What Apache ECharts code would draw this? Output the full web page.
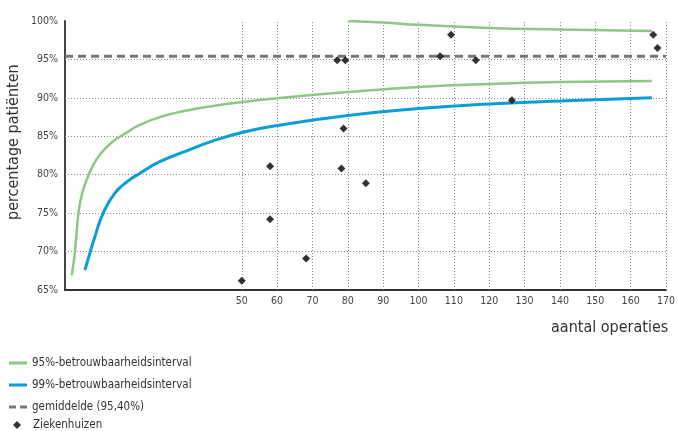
<!DOCTYPE html>
<html><head><meta charset="utf-8">
<script src="https://cdn.jsdelivr.net/npm/echarts@6/dist/echarts.min.js"></script>
<style>html,body{margin:0;padding:0;background:#fff}#c{width:678px;height:431px}</style>
</head><body><div id="c"></div>
<script>
// x tick labels (aantal operaties)
const xTickValues = [50, 60, 70, 80, 90, 100, 110, 120, 130, 140, 150, 160, 170];
const yTickValues = [65, 70, 75, 80, 85, 90, 95, 100];
const yGridValues = [70, 75, 80, 85, 90, 95];
// 95% betrouwbaarheidsinterval, bovengrens
const ci95Upper = [[80.2,100],[90,99.8],[100,99.5],[120,99.1],[140,98.9],[166,98.7]];
// 95% betrouwbaarheidsinterval, ondergrens
const ci95Lower = [[1.9,66.9],[2.8,69.9],[3.8,75.0],[4.7,77.3],[6.1,79.3],[7.5,80.8],[9.4,82.3],[13.2,84.2],[17.9,85.6],[20.3,86.3],[26.8,87.5],[34.4,88.35],[41.9,88.95],[50.9,89.5],[60,89.95],[80,90.75],[100,91.4],[120,91.8],[140,92.05],[166,92.2]];
// 99% betrouwbaarheidsinterval, ondergrens
const ci99Lower = [[5.65,67.6],[7.1,69.9],[8.5,72.0],[10.8,75.0],[14.1,77.6],[17.6,79.1],[21.2,80.2],[26.8,81.7],[34.4,83.1],[41.9,84.4],[50.9,85.6],[60,86.4],[80,87.7],[100,88.6],[120,89.2],[140,89.6],[166,90.0]];
// gemiddelde
const meanValue = 95.4;
const meanRange = [0, 170];
// ziekenhuizen: [aantal operaties, percentage]
const hospitals = [[50,66.2],[58,81.1],[58,74.2],[68.2,69.1],[77,94.9],[79.3,94.9],[78.8,86.0],[78.2,80.8],[85.1,78.9],[106.1,95.4],[109.2,98.2],[116.2,94.9],[126.4,89.7],[166.4,98.2],[167.6,96.5]];

const FONT = '"DejaVu Sans Condensed","Liberation Sans Narrow","DejaVu Sans",sans-serif';
const GREEN = '#8cc783', BLUE = '#0a9ed6', GREY = '#777777';
const chart = echarts.init(document.getElementById('c'));
const name95 = '95%-betrouwbaarheidsinterval', name99 = '99%-betrouwbaarheidsinterval',
      nameMean = 'gemiddelde (95,40%)', nameHosp = 'Ziekenhuizen';
const gridStyle = {type: [1, 2], color: '#888', width: 1};
chart.setOption({
  animation: false,
  textStyle: {fontFamily: FONT},
  grid: {left: 65, right: 11, top: 21, bottom: 141, containLabel: false},
  xAxis: {
    type: 'value', min: 0, max: 170, interval: 10,
    axisLine: {lineStyle: {color: '#333', width: 2}},
    axisTick: {show: false},
    axisLabel: {customValues: xTickValues, color: '#444', fontSize: 10.5, margin: 6, fontFamily: FONT},
    splitLine: {show: false}
  },
  yAxis: {
    type: 'value', min: 65, max: 100, interval: 5,
    axisLine: {show: true, lineStyle: {color: '#444', width: 2}},
    axisTick: {show: false},
    axisLabel: {customValues: yTickValues, formatter: '{value}%', color: '#444', fontSize: 10.5, margin: 7, fontFamily: FONT},
    splitLine: {show: false}
  },
  legend: [{
    orient: 'vertical', left: 4, top: 352, itemWidth: 18, itemHeight: 3, itemGap: 10,
    textStyle: {fontSize: 11.5, color: '#333', fontFamily: FONT},
    data: [
      {name: name95, icon: 'rect'},
      {name: name99, icon: 'rect'},
      {name: nameMean, icon: 'path://M0,0 H7 V3 H0 Z M11,0 H18 V3 H11 Z'}
    ]
  }, {
    orient: 'vertical', left: 8, top: 414, itemWidth: 8, itemHeight: 8, itemGap: 8,
    textStyle: {fontSize: 11.5, color: '#333', fontFamily: FONT, padding: [0,0,0,7]},
    data: [{name: nameHosp, icon: 'diamond'}]
  }],
  graphic: [
    {type: 'text', left: 551, top: 320, style: {text: 'aantal operaties', font: '16px ' + FONT, fill: '#333'}},
    {type: 'text', x: 6, y: 220, rotation: Math.PI / 2, style: {text: 'percentage patiënten', font: '16px ' + FONT, fill: '#333'}}
  ],
  series: [
    {name: nameMean, type: 'line', symbol: 'none', data: [[meanRange[0], meanValue], [meanRange[1], meanValue]],
      lineStyle: {color: GREY, width: 3, type: [8, 5]}, itemStyle: {color: GREY}, z: 3,
      markLine: {silent: true, symbol: 'none', label: {show: false}, lineStyle: gridStyle, z: 1,
        data: xTickValues.map(v => ({xAxis: v})).concat(yGridValues.map(v => ({yAxis: v})))}
    },
    {name: name95, type: 'line', symbol: 'none', smooth: 0.5, data: ci95Lower,
      lineStyle: {color: GREEN, width: 2.5}, itemStyle: {color: GREEN}, z: 4},
    {name: name95, type: 'line', symbol: 'none', smooth: 0.5, data: ci95Upper,
      lineStyle: {color: GREEN, width: 2.5}, itemStyle: {color: GREEN}, z: 4},
    {name: name99, type: 'line', symbol: 'none', smooth: 0.5, data: ci99Lower,
      lineStyle: {color: BLUE, width: 3}, itemStyle: {color: BLUE}, z: 5},
    {name: nameHosp, type: 'scatter', symbol: 'diamond', symbolSize: 8, data: hospitals,
      itemStyle: {color: '#000'}, z: 6}
  ]
});
</script></body></html>
